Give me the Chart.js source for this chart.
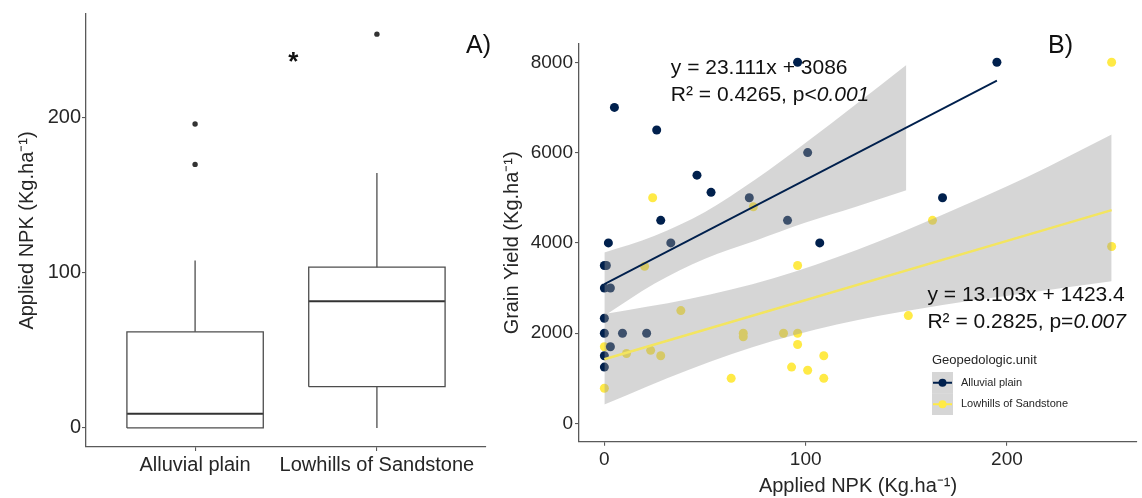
<!DOCTYPE html>
<html>
<head>
<meta charset="utf-8">
<script src="https://cdn.jsdelivr.net/npm/chart.js@4.4.0/dist/chart.umd.min.js"></script>
<style>
  html, body { margin: 0; padding: 0; background: #fff; }
  #wrap { position: relative; width: 1142px; height: 498px; }
  #boxWrap { position: absolute; left: 0; top: 0; width: 500px; height: 498px; }
  #scatWrap { position: absolute; left: 500px; top: 0; width: 642px; height: 498px; }
</style>
</head>
<body>
<div id="wrap">
  <div id="boxWrap"><canvas id="boxChart"></canvas></div>
  <div id="scatWrap"><canvas id="scatChart"></canvas></div>
</div>
<script>
// ---- A) applied NPK per unit (box stats read off the figure)
const units = ['Alluvial plain', 'Lowhills of Sandstone'];
const boxLow = [0, 0];
const boxQ1 = [0, 26.6];
const boxMedian = [9.2, 81.7];
const boxQ3 = [62, 103.7];
const boxHigh = [108, 164.5];
const outliersAlluvial = [170, 196];
const outliersLowhills = [254];
const npkTicks = [0, 100, 200];

// ---- B) grain yield vs applied NPK
const alluvialNpk   = [5, 26, 46, 53, 28, 2, 33, 96, 101, 72, 91, 107, 168, 195, 0, 1, 0, 3, 0, 0, 9, 21, 3, 0, 0];
const alluvialYield = [7000, 6500, 5500, 5120, 4500, 4000, 4000, 8000, 6000, 5000, 4500, 4000, 5000, 8000, 3500, 3500, 3000, 3000, 2330, 2000, 2000, 2000, 1700, 1500, 1250];
const lowhillsNpk   = [24, 74, 163, 252, 252, 20, 0, 0, 38, 11, 23, 28, 63, 96, 69, 69, 89, 96, 96, 109, 93, 101, 109, 151];
const lowhillsYield = [5000, 4800, 4500, 8000, 3920, 3480, 1700, 780, 2500, 1550, 1620, 1500, 1000, 3500, 2000, 1920, 2000, 2000, 1750, 1500, 1250, 1180, 1000, 2390];

const alluvialFitX = [0, 195];
const alluvialFitY = [3086, 7593];
const lowhillsFitX = [0, 252];
const lowhillsFitY = [1423, 4725];

const alluvialBandX    = [0, 25, 50, 75, 100, 125, 150];
const alluvialBandHigh = [3786, 4161, 4686, 5402, 6218, 7071, 7940];
const alluvialBandLow  = [2386, 3100, 3650, 4050, 4450, 4800, 5166];
const lowhillsBandX    = [0, 42, 84, 126, 168, 210, 252];
const lowhillsBandHigh = [2423, 2755, 3217, 3855, 4625, 5460, 6400];
const lowhillsBandLow  = [423, 1193, 1831, 2293, 2625, 2890, 3150];

const yieldTicks = [0, 2000, 4000, 6000, 8000];
const npkTicksB = [0, 100, 200];

const FONT = "'Liberation Sans', Arial, sans-serif";
const NAVY = '#00204D';
const YELLOW = '#FFEA46';
const BAND = 'rgba(153,153,153,0.4)';
const AXIS = '#5a5a5a';
const TXT = '#262626';

function pairs(xs, ys) {
  return xs.map((v, i) => ({ x: v, y: ys[i] }));
}

function axisBase(size) {
  return {
    grid: { display: true, drawOnChartArea: false, drawTicks: true, tickLength: 4, color: AXIS, lineWidth: 1.1 },
    border: { display: true, color: AXIS, width: 1.3 },
    ticks: { color: TXT, font: { family: FONT, size: size }, maxRotation: 0, autoSkip: false, callback: v => String(v) }
  };
}

// ---------- panel A: box plot ----------
const BOX_HALF = 0.375;
const boxSets = [];
units.forEach((u, i) => {
  const c = i + 1;
  const lineOpts = { type: 'line', pointRadius: 0, fill: false, borderColor: '#4d4d4d', borderWidth: 1.3, tension: 0 };
  boxSets.push(Object.assign({}, lineOpts, {
    data: [
      { x: c - BOX_HALF, y: boxQ1[i] }, { x: c + BOX_HALF, y: boxQ1[i] },
      { x: c + BOX_HALF, y: boxQ3[i] }, { x: c - BOX_HALF, y: boxQ3[i] },
      { x: c - BOX_HALF, y: boxQ1[i] }
    ],
    borderJoinStyle: 'miter'
  }));
  boxSets.push(Object.assign({}, lineOpts, {
    data: [{ x: c - BOX_HALF, y: boxMedian[i] }, { x: c + BOX_HALF, y: boxMedian[i] }],
    borderColor: '#333', borderWidth: 2
  }));
  boxSets.push(Object.assign({}, lineOpts, { data: [{ x: c, y: boxQ3[i] }, { x: c, y: boxHigh[i] }] }));
  if (boxQ1[i] > boxLow[i]) {
    boxSets.push(Object.assign({}, lineOpts, { data: [{ x: c, y: boxLow[i] }, { x: c, y: boxQ1[i] }] }));
  }
});
boxSets.push({
  type: 'scatter',
  data: outliersAlluvial.map(v => ({ x: 1, y: v })).concat(outliersLowhills.map(v => ({ x: 2, y: v }))),
  pointRadius: 2.7, backgroundColor: '#333', borderWidth: 0
});

const boxNotes = {
  id: 'boxNotes',
  afterDraw(chart) {
    const { ctx, scales: { x, y } } = chart;
    ctx.save();
    ctx.fillStyle = '#111';
    ctx.font = 'bold 26px ' + FONT;
    ctx.textAlign = 'center';
    ctx.textBaseline = 'middle';
    ctx.fillText('*', x.getPixelForValue(1.54), y.getPixelForValue(238.7) + 5);
    ctx.font = '25px ' + FONT;
    ctx.textAlign = 'left';
    ctx.fillText('A)', 466, 46);
    ctx.restore();
  }
};

const axA = axisBase(20);
const axAy = axisBase(20);
new Chart(document.getElementById('boxChart'), {
  type: 'scatter',
  data: { datasets: boxSets },
  options: {
    responsive: true,
    maintainAspectRatio: false,
    animation: false,
    layout: { padding: { left: 0, top: 14, right: 14, bottom: 0 } },
    plugins: { legend: { display: false }, tooltip: { enabled: false } },
    scales: {
      x: Object.assign(axA, {
        type: 'linear', min: 0.4, max: 2.6,
        afterBuildTicks: s => { s.ticks = [1, 2].map(v => ({ value: v })); },
        afterFit: s => { s.height = 51; },
        ticks: Object.assign(axA.ticks, { padding: 2, callback: v => units[v - 1] })
      }),
      y: Object.assign(axAy, {
        min: -12.3, max: 267,
        afterBuildTicks: s => { s.ticks = npkTicks.map(v => ({ value: v })); },
        afterFit: s => { s.width = 86; },
        ticks: Object.assign(axAy.ticks, { padding: 1 }),
        title: { display: true, text: 'Applied NPK (Kg.ha⁻¹)', color: TXT, font: { family: FONT, size: 20 }, padding: { top: 15, bottom: 0 } }
      })
    }
  },
  plugins: [boxNotes]
});

// ---------- panel B: scatter with fits ----------
const eqLines = [
  { x: 33, y: 7874, parts: [['y = 23.111x + 3086', false]] },
  { x: 33, y: 7874, dy: 27, parts: [['R² = 0.4265, p<', false], ['0.001', true]] },
  { x: 160.5, y: 2846, parts: [['y = 13.103x + 1423.4', false]] },
  { x: 160.5, y: 2846, dy: 27, parts: [['R² = 0.2825, p=', false], ['0.007', true]] }
];
const legendItems = ['Alluvial plain', 'Lowhills of Sandstone'];
const legendColors = [NAVY, YELLOW];

const scatNotes = {
  id: 'scatNotes',
  afterDatasetsDraw(chart) {
    const { ctx, scales: { x, y } } = chart;
    ctx.save();
    ctx.fillStyle = '#111';
    ctx.textBaseline = 'middle';
    ctx.textAlign = 'left';
    eqLines.forEach(l => {
      let px = x.getPixelForValue(l.x);
      const py = y.getPixelForValue(l.y) + (l.dy || 0);
      l.parts.forEach(p => {
        ctx.font = (p[1] ? 'italic ' : '') + '21px ' + FONT;
        ctx.fillText(p[0], px, py);
        px += ctx.measureText(p[0]).width;
      });
    });
    ctx.restore();
  },
  afterDraw(chart) {
    const { ctx } = chart;
    ctx.save();
    ctx.fillStyle = '#111';
    ctx.font = '25px ' + FONT;
    ctx.textBaseline = 'middle';
    ctx.fillText('B)', 548, 46);
    // legend
    const lx = 432, ly = 372, kh = 21.5;
    ctx.fillStyle = TXT;
    ctx.font = '13px ' + FONT;
    ctx.fillText('Geopedologic.unit', lx, 360);
    legendItems.forEach((name, i) => {
      const top = ly + i * kh;
      ctx.fillStyle = BAND;
      ctx.fillRect(lx, top, 21, kh);
      ctx.strokeStyle = legendColors[i];
      ctx.lineWidth = 2;
      ctx.beginPath();
      ctx.moveTo(lx + 1, top + kh / 2);
      ctx.lineTo(lx + 20, top + kh / 2);
      ctx.stroke();
      ctx.fillStyle = legendColors[i];
      ctx.beginPath();
      ctx.arc(lx + 10.5, top + kh / 2, 4, 0, Math.PI * 2);
      ctx.fill();
      ctx.fillStyle = TXT;
      ctx.font = '11px ' + FONT;
      ctx.fillText(name, lx + 29, top + kh / 2);
    });
    ctx.restore();
  }
};

const noLine = { type: 'line', pointRadius: 0, borderWidth: 0, borderColor: 'rgba(0,0,0,0)', tension: 0.4, cubicInterpolationMode: 'monotone' };
const axB = axisBase(19);
const axBy = axisBase(19);
new Chart(document.getElementById('scatChart'), {
  type: 'scatter',
  data: {
    datasets: [
      { type: 'line', data: pairs(alluvialFitX, alluvialFitY), borderColor: NAVY, borderWidth: 1.8, pointRadius: 0, order: 0 },
      { type: 'line', data: pairs(lowhillsFitX, lowhillsFitY), borderColor: '#f3e560', borderWidth: 2.4, pointRadius: 0, order: 0 },
      Object.assign({}, noLine, { data: pairs(alluvialBandX, alluvialBandHigh), fill: '+1', backgroundColor: BAND, order: 1 }),
      Object.assign({}, noLine, { data: pairs(alluvialBandX, alluvialBandLow), fill: false, order: 1 }),
      Object.assign({}, noLine, { data: pairs(lowhillsBandX, lowhillsBandHigh), fill: '+1', backgroundColor: BAND, order: 1 }),
      Object.assign({}, noLine, { data: pairs(lowhillsBandX, lowhillsBandLow), fill: false, order: 1 }),
      { label: 'Alluvial plain', data: pairs(alluvialNpk, alluvialYield), backgroundColor: NAVY, borderWidth: 0, pointRadius: 4.5, order: 2 },
      { label: 'Lowhills of Sandstone', data: pairs(lowhillsNpk, lowhillsYield), backgroundColor: YELLOW, borderWidth: 0, pointRadius: 4.5, order: 3 }
    ]
  },
  options: {
    responsive: true,
    maintainAspectRatio: false,
    animation: false,
    layout: { padding: { left: 0, top: 44, right: 5, bottom: 0 } },
    plugins: { legend: { display: false }, tooltip: { enabled: false } },
    scales: {
      x: Object.assign(axB, {
        type: 'linear', min: -12.6, max: 264.6,
        afterBuildTicks: s => { s.ticks = npkTicksB.map(v => ({ value: v })); },
        afterFit: s => { s.height = 56.3; },
        ticks: Object.assign(axB.ticks, { padding: 3 }),
        title: { display: true, text: 'Applied NPK (Kg.ha⁻¹)', color: TXT, font: { family: FONT, size: 20 }, padding: { top: 0, bottom: 0 } }
      }),
      y: Object.assign(axBy, {
        min: -403, max: 8405,
        afterBuildTicks: s => { s.ticks = yieldTicks.map(v => ({ value: v })); },
        afterFit: s => { s.width = 79; },
        ticks: Object.assign(axBy.ticks, { padding: 2 }),
        title: { display: true, text: 'Grain Yield (Kg.ha⁻¹)', color: TXT, font: { family: FONT, size: 20 }, padding: { top: 0, bottom: 0 } }
      })
    }
  },
  plugins: [scatNotes]
});
</script>
</body>
</html>
